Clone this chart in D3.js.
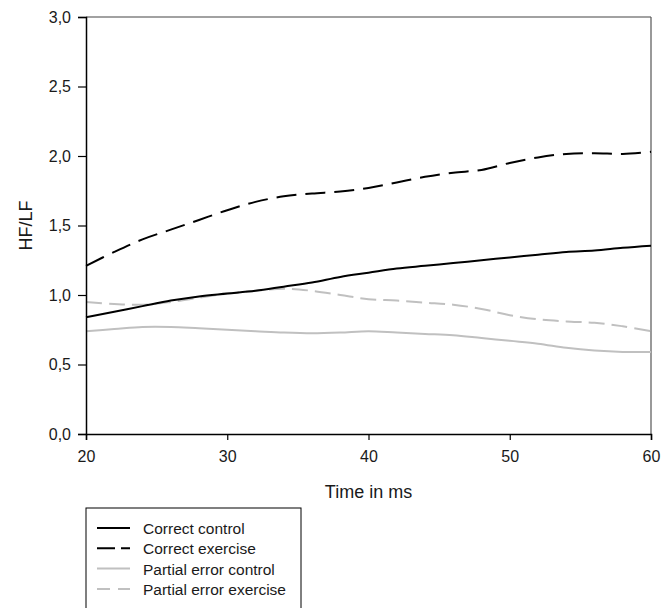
<!DOCTYPE html>
<html>
<head>
<meta charset="utf-8">
<script src="https://cdn.jsdelivr.net/npm/d3@7"></script>
<style>
  body { margin: 0; background: #fff; }
  svg { display: block; font-family: "Liberation Sans", Arial, sans-serif; }
</style>
</head>
<body>
<svg id="chart" width="672" height="608"></svg>
<script>
// time points (ms)
const times = [20,22,24,26,28,30,32,34,36,38,40,42,44,46,48,50,52,54,56,58,60];

// HF/LF values
const correctControl = [0.84,0.88,0.92,0.96,0.99,1.01,1.03,1.06,1.09,1.13,1.16,1.19,1.21,1.23,1.25,1.27,1.29,1.31,1.32,1.34,1.355];
const correctExercise = [1.21,1.31,1.40,1.47,1.54,1.61,1.67,1.71,1.73,1.745,1.77,1.81,1.85,1.88,1.90,1.95,1.99,2.015,2.02,2.015,2.03];
const partialControl = [0.74,0.755,0.77,0.77,0.76,0.75,0.74,0.73,0.725,0.73,0.74,0.73,0.72,0.71,0.69,0.67,0.65,0.62,0.60,0.59,0.59];
const partialExercise = [0.95,0.935,0.93,0.95,0.98,1.01,1.03,1.045,1.03,1.00,0.97,0.96,0.945,0.93,0.90,0.855,0.825,0.81,0.80,0.775,0.74];

const seriesNames = ["Correct control", "Correct exercise", "Partial error control", "Partial error exercise"];
const xTicks = [20,30,40,50,60];
const yTicks = [0,0.5,1,1.5,2,2.5,3];

const series = [
  {name: seriesNames[0], values: correctControl, color: "#000", dash: null, key: null},
  {name: seriesNames[1], values: correctExercise, color: "#000", dash: "20,9", key: "18,6"},
  {name: seriesNames[2], values: partialControl, color: "#c0c0c0", dash: null, key: null},
  {name: seriesNames[3], values: partialExercise, color: "#c0c0c0", dash: "16,7", key: "13,8"}
];

const svg = d3.select("#chart");
const mLeft = 86, mRight = 651, mTop = 17, mBottom = 434;

let x = d3.scaleLinear().domain([20, 60]).range([mLeft, mRight]);
let y = d3.scaleLinear().domain([0, 3]).range([mBottom, mTop]);

// frame top/right
svg.append("line").attr("x1", mLeft).attr("x2", mRight).attr("y1", mTop).attr("y2", mTop)
  .attr("stroke", "#444").attr("stroke-width", 1.2);
svg.append("line").attr("x1", mRight).attr("x2", mRight).attr("y1", mTop).attr("y2", mBottom)
  .attr("stroke", "#555").attr("stroke-width", 1.2);

let line = d3.line()
  .x((d, i) => x(times[i]))
  .y(d => y(d))
  .curve(d3.curveCatmullRom.alpha(0.5));

// gray first so black sits on top
[2, 3, 0, 1].forEach(k => {
  const s = series[k];
  svg.append("path")
    .attr("d", line(s.values))
    .attr("fill", "none")
    .attr("stroke", s.color)
    .attr("stroke-width", 2)
    .attr("stroke-dasharray", s.dash);
});

let fmt = d => d3.format(".1f")(d).replace(".", ",");

let yAxis = svg.append("g")
  .attr("transform", `translate(${mLeft},0)`)
  .call(d3.axisLeft(y).tickValues(yTicks).tickFormat(fmt).tickSize(8).tickPadding(7));
let xAxis = svg.append("g")
  .attr("transform", `translate(0,${mBottom})`)
  .call(d3.axisBottom(x).tickValues(xTicks).tickSize(6).tickPadding(11));

[xAxis, yAxis].forEach(g => {
  g.selectAll("text").attr("font-size", 16).attr("fill", "#1a1a1a")
    .attr("font-family", "Liberation Sans, Arial, sans-serif");
  g.selectAll("line").attr("stroke", "#000").attr("stroke-width", 1.2);
  g.select(".domain").attr("stroke", "#000").attr("stroke-width", 1.5);
});

// axis titles
svg.append("text")
  .attr("x", (mLeft + mRight) / 2).attr("y", 498)
  .attr("text-anchor", "middle").attr("font-size", 18).attr("fill", "#1a1a1a")
  .text("Time in ms");
svg.append("text")
  .attr("transform", `translate(32,${(mTop + mBottom) / 2}) rotate(-90)`)
  .attr("text-anchor", "middle").attr("font-size", 18).attr("fill", "#1a1a1a")
  .text("HF/LF");

// legend
let lg = svg.append("g");
lg.append("rect").attr("x", 86).attr("y", 508).attr("width", 215).attr("height", 110)
  .attr("fill", "#fff").attr("stroke", "#000").attr("stroke-width", 1);
series.forEach((s, i) => {
  const ly = 528 + i * 20.3;
  lg.append("line").attr("x1", 97).attr("x2", 130).attr("y1", ly).attr("y2", ly)
    .attr("stroke", s.color).attr("stroke-width", 2)
    .attr("stroke-dasharray", s.key);
  lg.append("text").attr("x", 143).attr("y", ly + 6)
    .attr("font-size", 15.5).attr("fill", "#1a1a1a").text(s.name);
});
</script>
</body>
</html>
